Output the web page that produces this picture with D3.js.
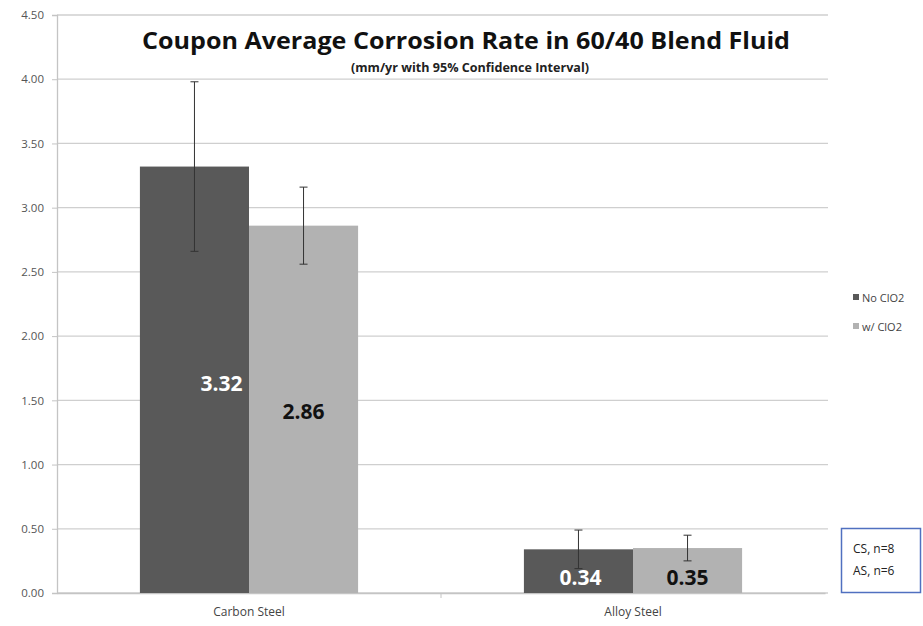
<!DOCTYPE html>
<html><head><meta charset="utf-8">
<script src="https://cdn.jsdelivr.net/npm/d3@7/dist/d3.min.js"></script>
<style>body{margin:0;background:#fff}svg{display:block}text{font-family:"Open Sans",sans-serif}</style>
</head><body><svg id="c" width="923" height="626"></svg>
<script>
const categories = ["Carbon Steel", "Alloy Steel"];
const seriesNames = ["No ClO2", "w/ ClO2"];
const noClO2 = [3.32, 0.34];
const wClO2 = [2.86, 0.35];
const noClO2Low = [2.66, 0.19];
const noClO2High = [3.98, 0.49];
const wClO2Low = [2.56, 0.25];
const wClO2High = [3.16, 0.45];
const yTicks = [0, 0.5, 1, 1.5, 2, 2.5, 3, 3.5, 4, 4.5];
const valueLabels = [["3.32", "0.34"], ["2.86", "0.35"]];

const colors = ["#595959", "#b2b2b2"];
const svg = d3.select("#c");
const L = 57, R = 825, T = 15, B = 593;
const x = d3.scaleBand().domain(categories).range([L, R]).paddingInner(0).paddingOuter(0);
const x1 = d3.scaleBand().domain(seriesNames).range([0, x.bandwidth()]).paddingInner(0).paddingOuter(0.76);
const y = d3.scaleLinear().domain([0, 4.5]).range([B, T]);

// gridlines
svg.append("g").selectAll("line").data(yTicks).join("line")
  .attr("x1", L).attr("x2", R + 3).attr("y1", d => y(d)).attr("y2", d => y(d))
  .attr("stroke", "#cfcfcf").attr("stroke-width", 1.3);

// y axis
const yAxis = d3.axisLeft(y).tickValues(yTicks).tickFormat(d3.format(".2f")).tickSize(5).tickPadding(8);
const ga = svg.append("g").attr("transform", `translate(${L},0)`).call(yAxis);
ga.select(".domain").attr("stroke", "#c4c4c4").attr("stroke-width", 1.3);
ga.selectAll(".tick line").attr("stroke", "#c4c4c4");
ga.selectAll("text").attr("font-size", 11.5).attr("fill", "#555");

// x axis
const xa = svg.append("g").attr("transform", `translate(0,${B})`).call(d3.axisBottom(x).tickSize(0).tickPadding(14));
xa.select(".domain").attr("stroke", "#c4c4c4").attr("stroke-width", 1.3);
xa.selectAll("text").attr("font-size", 12).attr("fill", "#444");
svg.append("line").attr("x1", x.step() + L).attr("x2", x.step() + L).attr("y1", B).attr("y2", B + 5).attr("stroke", "#c4c4c4");

// title background and title
svg.append("rect").attr("x", 140).attr("y", 20).attr("width", 660).attr("height", 54).attr("fill", "#fff");
svg.append("text").attr("x", 466).attr("y", 49).attr("text-anchor", "middle").attr("font-size", 23).attr("font-weight", "bold").attr("fill", "#111")
  .attr("textLength", 648).attr("lengthAdjust", "spacingAndGlyphs")
  .text("Coupon Average Corrosion Rate in 60/40 Blend Fluid");
svg.append("text").attr("x", 470).attr("y", 72).attr("text-anchor", "middle").attr("font-size", 13).attr("font-weight", "bold").attr("fill", "#222")
  .attr("textLength", 238).attr("lengthAdjust", "spacingAndGlyphs")
  .text("(mm/yr with 95% Confidence Interval)");

const series = [
  {name: seriesNames[0], vals: noClO2, lo: noClO2Low, hi: noClO2High, color: colors[0], tc: "#fff"},
  {name: seriesNames[1], vals: wClO2, lo: wClO2Low, hi: wClO2High, color: colors[1], tc: "#111"}
];
series.forEach((s, si) => {
  const g = svg.append("g");
  categories.forEach((c, ci) => {
    const bx = x(c) + x1(s.name), bw = x1.bandwidth();
    g.append("rect").attr("x", bx).attr("y", y(s.vals[ci])).attr("width", bw).attr("height", B - y(s.vals[ci])).attr("fill", s.color);
    const cx = bx + bw / 2;
    g.append("line").attr("x1", cx).attr("x2", cx).attr("y1", y(s.hi[ci])).attr("y2", y(s.lo[ci])).attr("stroke", "#333").attr("stroke-width", 1);
    [s.hi[ci], s.lo[ci]].forEach(v => g.append("line").attr("x1", cx - 4).attr("x2", cx + 4).attr("y1", y(v)).attr("y2", y(v)).attr("stroke", "#333").attr("stroke-width", 1));
  });
});
// value labels
series.forEach((s, si) => {
  categories.forEach((c, ci) => {
    const bx = x(c) + x1(s.name), bw = x1.bandwidth();
    const ty = ci === 0 ? (si === 0 ? 391 : 419) : 585;
    const tx = bx + bw / 2 + (ci === 0 && si === 0 ? 27 : (ci === 1 && si === 0 ? 2 : 0));
    svg.append("text").attr("x", tx).attr("y", ty).attr("text-anchor", "middle")
      .attr("font-size", 21).attr("font-weight", "bold").attr("fill", s.tc).text(valueLabels[si][ci]);
  });
});

// legend
const lg = svg.append("g").attr("transform", "translate(853,298)");
series.forEach((s, i) => {
  lg.append("rect").attr("x", 0).attr("y", i * 29 - 4).attr("width", 6).attr("height", 6).attr("fill", s.color);
  lg.append("text").attr("x", 9).attr("y", i * 29 + 3.5).attr("font-size", 11).attr("fill", "#444").text(s.name);
});

// note box
svg.append("rect").attr("x", 841.5).attr("y", 528.5).attr("width", 79).attr("height", 64).attr("fill", "#fff").attr("stroke", "#5070c0").attr("stroke-width", 1.5);
svg.append("text").attr("x", 853).attr("y", 553).attr("font-size", 12).attr("fill", "#222").text("CS, n=8");
svg.append("text").attr("x", 853).attr("y", 575).attr("font-size", 12).attr("fill", "#222").text("AS, n=6");
</script></body></html>
